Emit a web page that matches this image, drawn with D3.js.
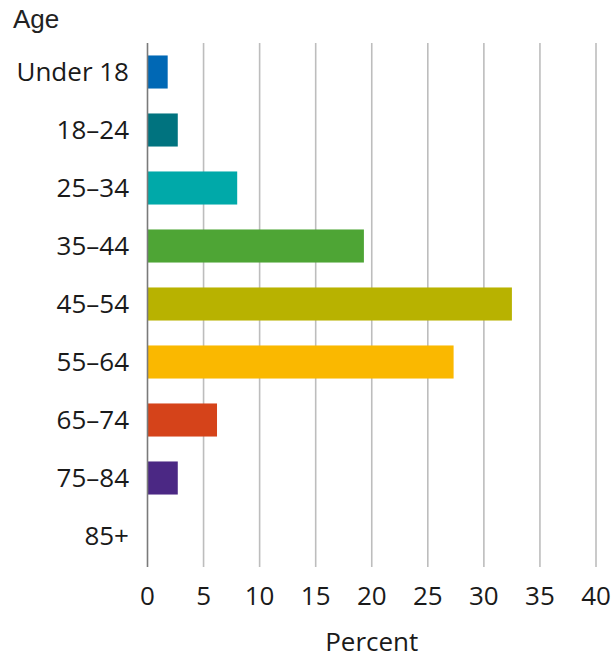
<!DOCTYPE html>
<html>
<head>
<meta charset="utf-8">
<script src="https://cdn.jsdelivr.net/npm/d3@7"></script>
<style>
  html, body { margin: 0; padding: 0; background: #fff; }
  svg { display: block; }
</style>
</head>
<body>
<div id="chart"></div>
<script>
// Age distribution, percent of total
const ageGroups = ["Under 18", "18–24", "25–34", "35–44", "45–54", "55–64", "65–74", "75–84", "85+"];
const percents  = [1.8, 2.7, 8.0, 19.3, 32.5, 27.3, 6.2, 2.7, 0];
const barColors = ["#0068b5", "#00737f", "#00a9a9", "#4ea535", "#b8b200", "#fab800", "#d5431a", "#4b2884", "#888888"];
const xTicks    = [0, 5, 10, 15, 20, 25, 30, 35, 40];

(function () {
  const W = 611, H = 658;
  const plotLeft = 147.5, plotRight = 596, plotTop = 43, plotBottom = 565;

  const svg = d3.select("#chart").append("svg")
    .attr("width", W).attr("height", H);

  const x = d3.scaleLinear().domain([0, 40]).range([plotLeft, plotRight]);
  const y = d3.scaleBand().domain(ageGroups).range([plotTop, plotBottom])
    .paddingInner(0.43).paddingOuter(0.215);

  const font = "'Open Sans', sans-serif";
  const fs = 26;

  // vertical gridlines with tick marks below the plot
  svg.append("g").selectAll("line")
    .data(xTicks.filter(d => d !== 0))
    .join("line")
    .attr("x1", d => x(d)).attr("x2", d => x(d))
    .attr("y1", plotTop).attr("y2", 567)
    .attr("stroke", "#bdbdbd").attr("stroke-width", 1.6);

  // bars
  svg.append("g").selectAll("rect")
    .data(ageGroups)
    .join("rect")
    .attr("x", x(0))
    .attr("y", d => y(d))
    .attr("width", (d, i) => x(percents[i]) - x(0))
    .attr("height", y.bandwidth())
    .attr("fill", (d, i) => barColors[i]);

  // zero baseline
  svg.append("line")
    .attr("x1", x(0)).attr("x2", x(0))
    .attr("y1", plotTop).attr("y2", 567)
    .attr("stroke", "#7a7a7a").attr("stroke-width", 1.6);

  // x tick labels
  svg.append("g").selectAll("text")
    .data(xTicks)
    .join("text")
    .attr("x", d => x(d))
    .attr("y", 605)
    .attr("text-anchor", "middle")
    .attr("font-family", font)
    .attr("font-size", fs)
    .attr("fill", "#1a1a1a")
    .text(d => d);

  // category labels
  svg.append("g").selectAll("text")
    .data(ageGroups)
    .join("text")
    .attr("x", 129)
    .attr("y", d => y(d) + y.bandwidth() / 2)
    .attr("dy", "0.36em")
    .attr("text-anchor", "end")
    .attr("font-family", font)
    .attr("font-size", fs)
    .attr("fill", "#1a1a1a")
    .text(d => d);

  // axis titles
  svg.append("text")
    .attr("x", 13).attr("y", 28)
    .attr("font-family", "'Liberation Sans', Arial, sans-serif")
    .attr("font-size", fs)
    .attr("fill", "#222")
    .text("Age");

  svg.append("text")
    .attr("x", (plotLeft + plotRight) / 2).attr("y", 651)
    .attr("text-anchor", "middle")
    .attr("font-family", font)
    .attr("font-size", fs)
    .attr("fill", "#1a1a1a")
    .text("Percent");
})();
</script>
</body>
</html>
